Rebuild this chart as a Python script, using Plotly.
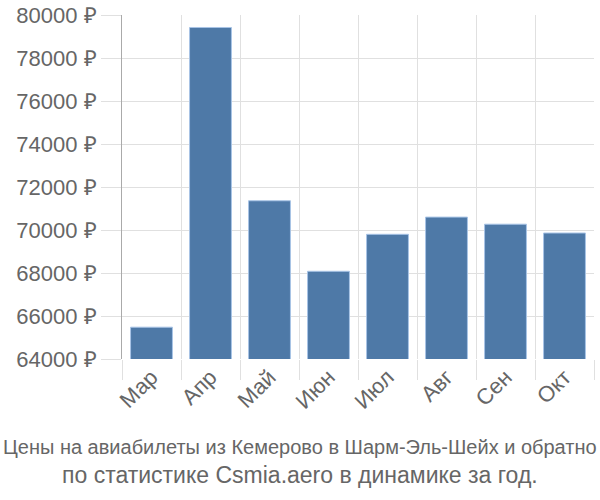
import plotly.graph_objects as go

months = ["Мар", "Апр", "Май", "Июн", "Июл", "Авг", "Сен", "Окт"]
prices = [65480, 79420, 71360, 68080, 69800, 70600, 70270, 69860]
title_line1 = "Цены на авиабилеты из Кемерово в Шарм-Эль-Шейх и обратно"
title_line2 = "по статистике Csmia.aero в динамике за год."

fig = go.Figure(go.Bar(
    x=months, y=prices,
    marker=dict(color="#4e79a7", line=dict(color="#a8c4e6", width=1)),
))

grid = "#e0e0e0"
W, H = 600, 500
L, R, T, B = 122, 6, 15, 141
fig.update_layout(
    width=W, height=H,
    margin=dict(l=L, r=R, t=T, b=B, autoexpand=False),
    plot_bgcolor="white", paper_bgcolor="white",
    bargap=0.29,
    showlegend=False,
    font=dict(family="Liberation Sans, Arial, sans-serif", color="#666666", size=22),
)
fig.update_xaxes(
    type="category", tickson="boundaries", showgrid=True, gridcolor=grid, gridwidth=1,
    ticks="outside", ticklen=20, tickcolor=grid, tickangle=-45, automargin=False,
    tickfont=dict(size=22, color="#666666"),
)
fig.update_yaxes(
    range=[64000, 80000], dtick=2000, tickformat="d", ticksuffix=" ₽",
    showgrid=True, gridcolor=grid, gridwidth=1, automargin=False,
    ticks="outside", ticklen=20, tickcolor=grid,
    showline=True, linecolor="#aaaaaa", linewidth=1,
    tickfont=dict(size=22, color="#666666"), zeroline=False,
)

pw = W - L - R
ph = H - T - B
def px_to_paper(xp, yp):
    return (xp - L) / pw, (H - B - yp) / ph

x1, y1 = px_to_paper(300, 447)
x2, y2 = px_to_paper(300, 475)
fig.add_annotation(text=title_line1, x=x1, y=y1, xref="paper", yref="paper",
                   xanchor="center", yanchor="middle", showarrow=False,
                   font=dict(size=20, color="#666666"))
fig.add_annotation(text=title_line2, x=x2, y=y2, xref="paper", yref="paper",
                   xanchor="center", yanchor="middle", showarrow=False,
                   font=dict(size=23, color="#666666"))
fig.write_html("out.html")
